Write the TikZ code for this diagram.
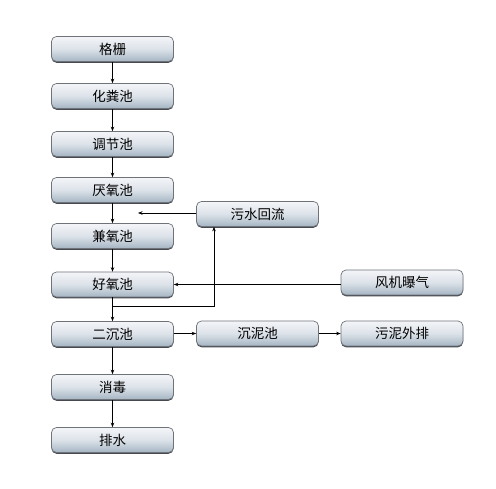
\documentclass[tikz,border=0pt]{standalone}
\usepackage{fontspec}
\setmainfont{Noto Sans CJK SC}
\usetikzlibrary{arrows.meta}
\definecolor{boxtop}{RGB}{244,245,248}
\definecolor{boxmid}{RGB}{220,226,233}
\definecolor{boxbot}{RGB}{165,181,195}
\definecolor{boxline}{RGB}{110,115,122}
\definecolor{boxshade}{RGB}{70,74,80}
\tikzset{
  stagebox/.style={rounded corners=5pt, draw=boxline, line width=0.7pt,
    top color=boxtop, bottom color=boxbot, middle color=boxmid,
    preaction={fill=boxshade, transform canvas={yshift=-1.3pt}},
    minimum width=122pt, minimum height=25pt, inner sep=0pt,
    font=\fontsize{13.5}{14}\selectfont},
  flow/.style={-{Stealth[length=4.5pt,width=3.5pt]}, line width=0.6pt, black},
}
\begin{document}
\begin{tikzpicture}[x=1pt,y=-1pt]
\useasboundingbox (0,0) rectangle (496,489);
\node[stagebox] (a1) at (112.5,49) {格栅};
\node[stagebox] (a2) at (112.5,96) {化粪池};
\node[stagebox] (a3) at (112.5,144) {调节池};
\node[stagebox] (a4) at (112.5,190) {厌氧池};
\node[stagebox] (a5) at (112.5,236) {兼氧池};
\node[stagebox] (a6) at (112.5,284.5) {好氧池};
\node[stagebox] (a7) at (112.5,334) {二沉池};
\node[stagebox] (a8) at (112.5,387) {消毒};
\node[stagebox] (a9) at (112.5,440) {排水};
\node[stagebox] (r1) at (257.5,214) {污水回流};
\node[stagebox] (r2) at (402,282.5) {风机曝气};
\node[stagebox] (s1) at (257.5,333.5) {沉泥池};
\node[stagebox] (s2) at (402,333.5) {污泥外排};
\coordinate (ret) at (138,213);
\coordinate (br) at (112.5,306);
\coordinate (bc) at (214,306);
\draw[flow] (a1) -- (a2);
\draw[flow] (a2) -- (a3);
\draw[flow] (a3) -- (a4);
\draw[flow] (a4) -- (a5);
\draw[flow] (a5) -- (a6);
\draw[flow] (a6) -- (a7);
\draw[flow] (a7) -- (a8);
\draw[flow] (a8) -- (a9);
\draw[flow] (r1.west |- ret) -- (ret);
\draw[flow] (br) -- (bc) -- (bc |- r1.south);
\draw[flow] (r2.west |- a6) -- (a6.east);
\draw[flow] (a7.east |- s1) -- (s1.west);
\draw[flow] (s1) -- (s2);
\end{tikzpicture}
\end{document}
